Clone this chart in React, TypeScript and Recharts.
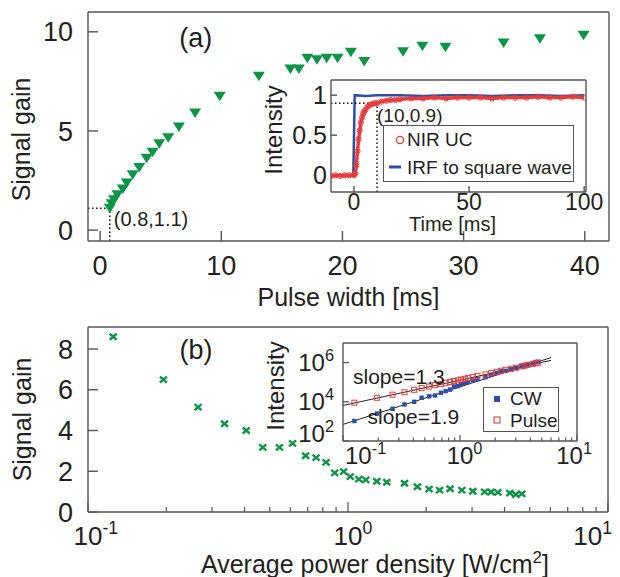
import React from 'react';
import {
  ComposedChart,
  Scatter,
  Line,
  XAxis,
  YAxis,
  ReferenceLine,
  ReferenceDot,
  Legend,
  CartesianGrid,
} from 'recharts';

// panel (a): signal gain vs pulse width
const pulseWidth = [0.8, 0.96, 1.15, 1.42, 1.87, 2.2, 2.69, 3.23, 3.84, 4.33, 4.88, 5.62, 6.5, 7.84, 9.87, 13.1, 15.7, 16.4, 17.1, 17.9, 18.7, 19.6, 20.7, 21.8, 25.0, 26.6, 28.5, 33.3, 36.3, 39.9];
const gainVsWidth = [1.1, 1.33, 1.53, 1.78, 2.07, 2.37, 2.79, 3.16, 3.62, 3.92, 4.36, 4.66, 5.2, 5.9, 6.75, 7.76, 8.13, 8.13, 8.67, 8.59, 8.67, 8.67, 8.97, 8.5, 8.99, 9.27, 9.22, 9.44, 9.65, 9.83];

// inset (a): time traces
const ucTime = [-10, -8, -6, -4, -2, 0, 0.5, 1, 1.5, 2, 2.5, 3, 3.5, 4, 4.5, 5, 6, 7, 8, 9, 10, 12, 14, 16, 18, 20, 25, 30, 35, 40, 45, 50, 55, 60, 65, 70, 75, 80, 85, 90, 95, 100];
const ucIntensity = [-0.01, 0, -0.01, 0, 0, 0, 0.02, 0.12, 0.3, 0.45, 0.56, 0.66, 0.72, 0.77, 0.8, 0.82, 0.86, 0.88, 0.89, 0.9, 0.9, 0.92, 0.93, 0.94, 0.94, 0.95, 0.96, 0.96, 0.97, 0.96, 0.97, 0.97, 0.97, 0.96, 0.97, 0.97, 0.97, 0.98, 0.97, 0.97, 0.98, 0.97];
const irfTime = [-10, -6, -3, -0.3, 0.3, 5, 10, 20, 30, 40, 50, 60, 70, 80, 90, 100];
const irfIntensity = [-0.01, 0, -0.01, 0, 1.0, 0.99, 1.0, 1.0, 0.99, 1.0, 1.0, 0.99, 1.0, 1.0, 0.99, 1.0];

// panel (b): signal gain vs average power density
const powerDensity = [0.125, 0.195, 0.265, 0.335, 0.406, 0.47, 0.545, 0.612, 0.687, 0.754, 0.823, 0.889, 0.962, 1.02, 1.1, 1.17, 1.29, 1.41, 1.65, 1.85, 2.05, 2.25, 2.47, 2.74, 3.02, 3.35, 3.55, 3.77, 4.19, 4.42, 4.66];
const gainVsPower = [8.6, 6.5, 5.15, 4.33, 4.0, 3.17, 3.17, 3.37, 2.76, 2.67, 2.44, 1.92, 1.98, 1.74, 1.61, 1.58, 1.51, 1.46, 1.41, 1.24, 1.12, 1.07, 1.14, 1.07, 1.02, 0.99, 0.98, 0.96, 0.93, 0.86, 0.89];

// inset (b): intensity vs power density
const pulseIntensity = [9.0e3, 1.6e4, 2.3e4, 3.1e4, 4.1e4, 5.0e4, 6.0e4, 7.1e4, 8.0e4, 9.3e4, 1.02e5, 1.15e5, 1.25e5, 1.38e5, 1.5e5, 1.62e5, 1.86e5, 2.1e5, 2.5e5, 2.95e5, 3.4e5, 3.85e5, 4.3e5, 4.9e5, 5.5e5, 6.4e5, 6.9e5, 7.6e5, 8.5e5, 9.2e5, 9.8e5];
const cwIntensity = [1.05e3, 2.5e3, 4.4e3, 7.3e3, 1.0e4, 1.6e4, 1.9e4, 2.1e4, 2.9e4, 3.5e4, 4.2e4, 6.0e4, 6.3e4, 7.9e4, 9.3e4, 1.03e5, 1.23e5, 1.44e5, 1.8e5, 2.4e5, 3.0e5, 3.6e5, 3.8e5, 4.6e5, 5.4e5, 6.5e5, 7.0e5, 7.9e5, 9.1e5, 1.07e6, 1.1e6];
const fitX = [0.1, 6];
const pulseFitY = [6.5e3, 1.3e6];
const cwFitY = [7e2, 1.8e6];

// ticks
const ticksAX = [0, 10, 20, 30, 40];
const ticksAY = [0, 5, 10];
const ticksInsetAX = [0, 50, 100];
const ticksInsetAY = [0, 0.5, 1];
const ticksLogX = [0.1, 0.2, 0.3, 0.4, 0.5, 0.6, 0.7, 0.8, 0.9, 1, 2, 3, 4, 5, 6, 7, 8, 9, 10];
const ticksBY = [0, 2, 4, 6, 8];
const ticksInsetBY = [1e2, 1e4, 1e6];

const legendOrder = ['NIR UC', 'IRF to square wave', 'CW', 'Pulse'];

const A_X_DOMAIN = [-1, 42];
const A_Y_DOMAIN = [-0.55, 11];
const IA_X_DOMAIN = [-10, 100.8];
const IA_Y_DOMAIN = [-0.21, 1.19];
const B_X_DOMAIN = [0.1, 10];
const B_Y_DOMAIN = [0, 9.08];
const IB_Y_DOMAIN = [1e2, 1e7];

const zip = (xs: number[], ys: number[]) => xs.map((x, i) => ({ x, y: ys[i] }));

const FONT = '"Liberation Sans", Arial, Helvetica, sans-serif';
const INK = '#231f20';
const FRAME = '#555';
const GREEN = '#0e9447';
const RED = '#e63c3c';
const BLUE = '#2d4ea5';

const frameLine = { stroke: FRAME, strokeWidth: 1.4 };

const DownTriangle = ({ cx, cy }: any) => (
  <path d={`M${cx - 6},${cy - 4.5}L${cx + 6},${cy - 4.5}L${cx},${cy + 5}Z`} fill={GREEN} />
);
const Cross = ({ cx, cy }: any) => (
  <path
    d={`M${cx - 3.5},${cy - 3}L${cx + 3.5},${cy + 3}M${cx - 3.5},${cy + 3}L${cx + 3.5},${cy - 3}`}
    stroke={GREEN}
    strokeWidth={2.4}
  />
);
const FilledSquare = ({ cx, cy }: any) => <rect x={cx - 2.2} y={cy - 2.2} width={4.4} height={4.4} fill={BLUE} />;
const OpenSquare = ({ cx, cy }: any) => (
  <rect x={cx - 2.5} y={cy - 2.5} width={5} height={5} fill="none" stroke={RED} strokeWidth={1} />
);
const OpenCircle = ({ cx, cy }: any) => <circle cx={cx} cy={cy} r={2.6} fill="none" stroke={RED} strokeWidth={1} />;

// x ticks on a log axis, drawn inward, "10^n" labels on decades
const LogXTick = (props: any) => {
  const { x, y, payload, inward, major, minor, labels, fontSize, baseline, minLeft, maxRight } = props;
  const lg = Math.log10(payload.value);
  const exp = Math.round(lg);
  const isMajor = Math.abs(lg - exp) < 1e-6;
  let label = null;
  if (labels && isMajor) {
    const supSize = fontSize * 0.68;
    const sup = String(exp);
    const supW = sup.split('').reduce((w, c) => w + (c === '-' ? 0.333 : 0.556), 0) * supSize;
    const total = 1.112 * fontSize + supW;
    let left = x - 0.556 * fontSize;
    if (left + total > maxRight) left = maxRight - total;
    if (left < minLeft) left = minLeft;
    label = (
      <text x={left} y={y + baseline} fontSize={fontSize} fontFamily={FONT} fill={INK}>
        10
        <tspan dy={-0.42 * fontSize} fontSize={supSize}>
          {sup}
        </tspan>
      </text>
    );
  }
  return (
    <g>
      <line x1={x} x2={x} y1={y} y2={y + inward * (isMajor ? major : minor)} stroke={FRAME} strokeWidth={1.2} />
      {label}
    </g>
  );
};

const LogYTick = (props: any) => {
  const { x, y, payload, len, fontSize, gap, maxY } = props;
  const exp = Math.round(Math.log10(payload.value));
  const cy = Math.min(y, maxY);
  return (
    <g>
      <line x1={x} x2={x + len} y1={y} y2={y} stroke={FRAME} strokeWidth={1.2} />
      <text x={x - gap} y={cy + 0.36 * fontSize} textAnchor="end" fontSize={fontSize} fontFamily={FONT} fill={INK}>
        10
        <tspan dy={-0.42 * fontSize} fontSize={fontSize * 0.68}>
          {exp}
        </tspan>
      </text>
    </g>
  );
};

const XTitle = ({ viewBox, text, sup, after, dx = 0, dy = 0, fontSize = 24 }: any) => {
  const { x, y, width } = viewBox;
  return (
    <text x={x + width / 2 + dx} y={y + dy} textAnchor="middle" fontSize={fontSize} fontFamily={FONT} fill={INK}>
      {text}
      {sup ? (
        <>
          <tspan dy={-0.42 * fontSize} fontSize={fontSize * 0.68}>
            {sup}
          </tspan>
          <tspan dy={0.42 * fontSize}>{after}</tspan>
        </>
      ) : null}
    </text>
  );
};

const YTitle = ({ viewBox, text, bx, dy = 0, fontSize = 24 }: any) => {
  const cy = viewBox.y + viewBox.height / 2 + dy;
  return (
    <text
      x={bx}
      y={cy}
      transform={`rotate(-90 ${bx} ${cy})`}
      textAnchor="middle"
      fontSize={fontSize}
      fontFamily={FONT}
      fill={INK}
    >
      {text}
    </text>
  );
};

const Note = ({ viewBox, text, dx = 0, dy = 0, fontSize = 19, anchor = 'start', angle = 0 }: any) => {
  const x = viewBox.x + viewBox.width / 2 + dx;
  const y = viewBox.y + viewBox.height / 2 + dy;
  return (
    <text
      x={x}
      y={y}
      textAnchor={anchor}
      dominantBaseline="central"
      fontSize={fontSize}
      fontFamily={FONT}
      fill={INK}
      transform={angle ? `rotate(${angle} ${x} ${y})` : undefined}
    >
      {text}
    </text>
  );
};

const legendIcon = (name: string) => {
  if (name === 'NIR UC') return <circle cx={16} cy={9} r={3.6} fill="none" stroke={RED} strokeWidth={1.3} />;
  if (name === 'IRF to square wave') return <line x1={5} x2={17} y1={9} y2={9} stroke={BLUE} strokeWidth={3} />;
  if (name === 'CW') return <rect x={10} y={6} width={6} height={6} fill={BLUE} />;
  return <rect x={10} y={6} width={6} height={6} fill="none" stroke={RED} strokeWidth={1.1} />;
};

const LegendBox = ({ payload, fontSize, iconWidth }: any) => {
  const items = (payload || [])
    .filter((e: any) => legendOrder.includes(e.value))
    .sort((a: any, b: any) => legendOrder.indexOf(a.value) - legendOrder.indexOf(b.value));
  return (
    <div
      style={{
        width: '100%',
        height: '100%',
        boxSizing: 'border-box',
        border: `1px solid ${FRAME}`,
        background: '#fff',
        display: 'flex',
        flexDirection: 'column',
        justifyContent: 'space-around',
        fontFamily: FONT,
        fontSize,
        color: INK,
        lineHeight: 1,
      }}
    >
      {items.map((e: any) => (
        <div key={e.value} style={{ display: 'flex', alignItems: 'center' }}>
          <svg width={iconWidth} height={18} style={{ flex: 'none' }}>
            {legendIcon(e.value)}
          </svg>
          <span>{e.value}</span>
        </div>
      ))}
    </div>
  );
};

const tickFont = (size: number) => ({ fill: INK, fontSize: size, fontFamily: FONT });

const PanelA = () => (
  <ComposedChart width={620} height={310} margin={{ top: 0, right: 0, bottom: 0, left: 0 }}>
    <XAxis
      xAxisId="bottom"
      dataKey="x"
      type="number"
      domain={A_X_DOMAIN}
      ticks={ticksAX}
      interval={0}
      allowDataOverflow
      height={69}
      tickSize={-10}
      tickMargin={25}
      axisLine={frameLine}
      tickLine={frameLine}
      tick={tickFont(27)}
      label={<XTitle text="Pulse width [ms]" dy={65} fontSize={25} />}
    />
    <XAxis xAxisId="top" orientation="top" type="number" domain={A_X_DOMAIN} ticks={ticksAX} interval={0} allowDataOverflow height={12} tickSize={-10} axisLine={frameLine} tickLine={frameLine} tick={false} />
    <YAxis
      yAxisId="left"
      dataKey="y"
      type="number"
      domain={A_Y_DOMAIN}
      ticks={ticksAY}
      interval={0}
      allowDataOverflow
      width={88}
      tickSize={-10}
      tickMargin={25}
      axisLine={frameLine}
      tickLine={frameLine}
      tick={tickFont(27)}
      label={<YTitle text="Signal gain" bx={30} dy={13} fontSize={25} />}
    />
    <YAxis yAxisId="right" orientation="right" type="number" domain={A_Y_DOMAIN} ticks={ticksAY} interval={0} allowDataOverflow width={11} tickSize={-10} axisLine={frameLine} tickLine={frameLine} tick={false} />
    <ReferenceLine xAxisId="bottom" yAxisId="left" segment={[{ x: A_X_DOMAIN[0], y: 1.1 }, { x: 0.8, y: 1.1 }]} stroke="#111" strokeWidth={1.5} strokeDasharray="1.5 2.5" />
    <ReferenceLine xAxisId="bottom" yAxisId="left" segment={[{ x: 0.8, y: A_Y_DOMAIN[0] }, { x: 0.8, y: 1.1 }]} stroke="#111" strokeWidth={1.5} strokeDasharray="1.5 2.5" />
    <Scatter xAxisId="bottom" yAxisId="left" name="gain" data={zip(pulseWidth, gainVsWidth)} shape={DownTriangle} fill={GREEN} isAnimationActive={false} />
    <ReferenceDot xAxisId="bottom" yAxisId="left" x={0.8} y={1.1} r={0} fill="none" stroke="none" label={<Note text="(0.8,1.1)" dx={4} dy={11} fontSize={20} />} />
    <ReferenceDot xAxisId="bottom" yAxisId="left" x={7.9} y={9.7} r={0} fill="none" stroke="none" label={<Note text="(a)" anchor="middle" fontSize={27} />} />
  </ComposedChart>
);

const InsetA = () => (
  <ComposedChart width={380} height={170} margin={{ top: 0, right: 0, bottom: 0, left: 0 }}>
    <CartesianGrid horizontal={false} vertical={false} fill="#fff" />
    <XAxis
      dataKey="x"
      type="number"
      domain={IA_X_DOMAIN}
      ticks={ticksInsetAX}
      interval={0}
      allowDataOverflow
      height={48}
      tickSize={-6}
      tickMargin={8}
      axisLine={frameLine}
      tickLine={frameLine}
      tick={tickFont(23)}
      label={<XTitle text="Time [ms]" dx={-6} dy={39} fontSize={20} />}
    />
    <XAxis xAxisId="top" orientation="top" type="number" domain={IA_X_DOMAIN} allowDataOverflow height={10} axisLine={frameLine} tickLine={false} tick={false} />
    <YAxis
      dataKey="y"
      type="number"
      domain={IA_Y_DOMAIN}
      ticks={ticksInsetAY}
      interval={0}
      allowDataOverflow
      width={91}
      tickSize={-6}
      tickMargin={10}
      axisLine={frameLine}
      tickLine={frameLine}
      tick={tickFont(25)}
      label={<YTitle text="Intensity" bx={42} dy={-6} fontSize={24} />}
    />
    <YAxis yAxisId="right" orientation="right" type="number" domain={IA_Y_DOMAIN} allowDataOverflow width={34} axisLine={frameLine} tickLine={false} tick={false} />
    <Scatter
      name="NIR UC"
      data={zip(ucTime, ucIntensity)}
      fill={RED}
      shape={OpenCircle}
      line={{ stroke: RED, strokeWidth: 3.5 }}
      isAnimationActive={false}
    />
    <Line name="IRF to square wave" data={zip(irfTime, irfIntensity)} dataKey="y" type="linear" stroke={BLUE} strokeWidth={2.5} dot={false} isAnimationActive={false} />
    <ReferenceLine segment={[{ x: IA_X_DOMAIN[0], y: 0.9 }, { x: 10, y: 0.9 }]} stroke="#111" strokeWidth={1.5} strokeDasharray="1.5 2.5" />
    <ReferenceLine segment={[{ x: 10, y: IA_Y_DOMAIN[0] }, { x: 10, y: 0.9 }]} stroke="#111" strokeWidth={1.5} strokeDasharray="1.5 2.5" />
    <ReferenceDot x={10} y={0.9} r={0} fill="none" stroke="none" label={<Note text="(10,0.9)" dx={0} dy={12} fontSize={19} />} />
    <Legend
      layout="vertical"
      align="center"
      verticalAlign="middle"
      wrapperStyle={{ left: 143, top: 55, width: 191, height: 57 }}
      content={(p: any) => <LegendBox payload={p.payload} fontSize={19} iconWidth={23} />}
    />
  </ComposedChart>
);

const PanelB = () => (
  <ComposedChart width={620} height={262} margin={{ top: 0, right: 0, bottom: 0, left: 0 }}>
    <XAxis
      xAxisId="bottom"
      dataKey="x"
      type="number"
      scale="log"
      domain={B_X_DOMAIN}
      ticks={ticksLogX}
      interval={0}
      allowDataOverflow
      height={65}
      tickSize={0}
      tickMargin={0}
      axisLine={frameLine}
      tickLine={false}
      tick={<LogXTick inward={-1} major={10} minor={5} labels fontSize={26} baseline={33} minLeft={0} maxRight={612} />}
      label={<XTitle text="Average power density [W/cm" sup="2" after="]" dx={27} dy={61} fontSize={25} />}
    />
    <XAxis
      xAxisId="top"
      orientation="top"
      type="number"
      scale="log"
      domain={B_X_DOMAIN}
      ticks={ticksLogX}
      interval={0}
      allowDataOverflow
      height={12}
      tickSize={0}
      tickMargin={0}
      axisLine={frameLine}
      tickLine={false}
      tick={<LogXTick inward={1} major={10} minor={5} />}
    />
    <YAxis
      yAxisId="left"
      dataKey="y"
      type="number"
      domain={B_Y_DOMAIN}
      ticks={ticksBY}
      interval={0}
      allowDataOverflow
      width={88}
      tickSize={-10}
      tickMargin={25}
      axisLine={frameLine}
      tickLine={frameLine}
      tick={tickFont(27)}
      label={<YTitle text="Signal gain" bx={31} dy={0} fontSize={25} />}
    />
    <YAxis yAxisId="right" orientation="right" type="number" domain={B_Y_DOMAIN} ticks={ticksBY} interval={0} allowDataOverflow width={12} tickSize={-10} axisLine={frameLine} tickLine={frameLine} tick={false} />
    <Scatter xAxisId="bottom" yAxisId="left" name="gain" data={zip(powerDensity, gainVsPower)} shape={Cross} fill={GREEN} isAnimationActive={false} />
    <ReferenceDot xAxisId="bottom" yAxisId="left" x={0.26} y={7.95} r={0} fill="none" stroke="none" label={<Note text="(b)" anchor="middle" fontSize={27} />} />
  </ComposedChart>
);

const InsetB = () => (
  <ComposedChart width={340} height={140} margin={{ top: 0, right: 0, bottom: 0, left: 0 }}>
    <CartesianGrid horizontal={false} vertical={false} fill="#fff" />
    <XAxis
      dataKey="x"
      type="number"
      scale="log"
      domain={B_X_DOMAIN}
      ticks={ticksLogX}
      interval={0}
      allowDataOverflow
      height={34}
      tickSize={0}
      tickMargin={0}
      axisLine={frameLine}
      tickLine={false}
      tick={<LogXTick inward={-1} major={6} minor={3.5} labels fontSize={24} baseline={23} minLeft={85} maxRight={332} />}
    />
    <XAxis
      xAxisId="top"
      orientation="top"
      type="number"
      scale="log"
      domain={B_X_DOMAIN}
      ticks={ticksLogX}
      interval={0}
      allowDataOverflow
      height={8}
      tickSize={0}
      tickMargin={0}
      axisLine={frameLine}
      tickLine={false}
      tick={<LogXTick inward={1} major={6} minor={3.5} />}
    />
    <YAxis
      dataKey="y"
      type="number"
      scale="log"
      domain={IB_Y_DOMAIN}
      ticks={ticksInsetBY}
      interval={0}
      allowDataOverflow
      width={83}
      tickSize={0}
      tickMargin={0}
      axisLine={frameLine}
      tickLine={false}
      tick={<LogYTick len={6} fontSize={24} gap={9} maxY={98} />}
      label={<YTitle text="Intensity" bx={24} dy={-6} fontSize={24} />}
    />
    <YAxis yAxisId="right" orientation="right" type="number" scale="log" domain={IB_Y_DOMAIN} allowDataOverflow width={23} axisLine={frameLine} tickLine={false} tick={false} />
    <Line name="pulse fit" legendType="none" data={zip(fitX, pulseFitY)} dataKey="y" stroke="#222" strokeWidth={1} dot={false} isAnimationActive={false} />
    <Line name="cw fit" legendType="none" data={zip(fitX, cwFitY)} dataKey="y" stroke="#222" strokeWidth={1} dot={false} isAnimationActive={false} />
    <Scatter name="CW" data={zip(powerDensity, cwIntensity)} fill={BLUE} shape={FilledSquare} isAnimationActive={false} />
    <Scatter name="Pulse" data={zip(powerDensity, pulseIntensity)} fill={RED} shape={OpenSquare} isAnimationActive={false} />
    <ReferenceDot x={0.3} y={1.9e5} r={0} fill="none" stroke="none" label={<Note text="slope=1.3" anchor="middle" angle={-13} fontSize={21} />} />
    <ReferenceDot x={0.4} y={1.8e3} r={0} fill="none" stroke="none" label={<Note text="slope=1.9" anchor="middle" angle={-18} fontSize={21} />} />
    <Legend
      layout="vertical"
      align="center"
      verticalAlign="middle"
      wrapperStyle={{ left: 223, top: 52, width: 76, height: 45 }}
      content={(p: any) => <LegendBox payload={p.payload} fontSize={19} iconWidth={26} />}
    />
  </ComposedChart>
);

export default function App() {
  return (
    <div style={{ position: 'absolute', left: 0, top: 0, width: 620, height: 577, background: '#fff' }}>
      <div style={{ position: 'absolute', left: 0, top: 0 }}>
        <PanelA />
      </div>
      <div style={{ position: 'absolute', left: 0, top: 315 }}>
        <PanelB />
      </div>
      <div style={{ position: 'absolute', left: 240, top: 70 }}>
        <InsetA />
      </div>
      <div style={{ position: 'absolute', left: 260, top: 335 }}>
        <InsetB />
      </div>
    </div>
  );
}
